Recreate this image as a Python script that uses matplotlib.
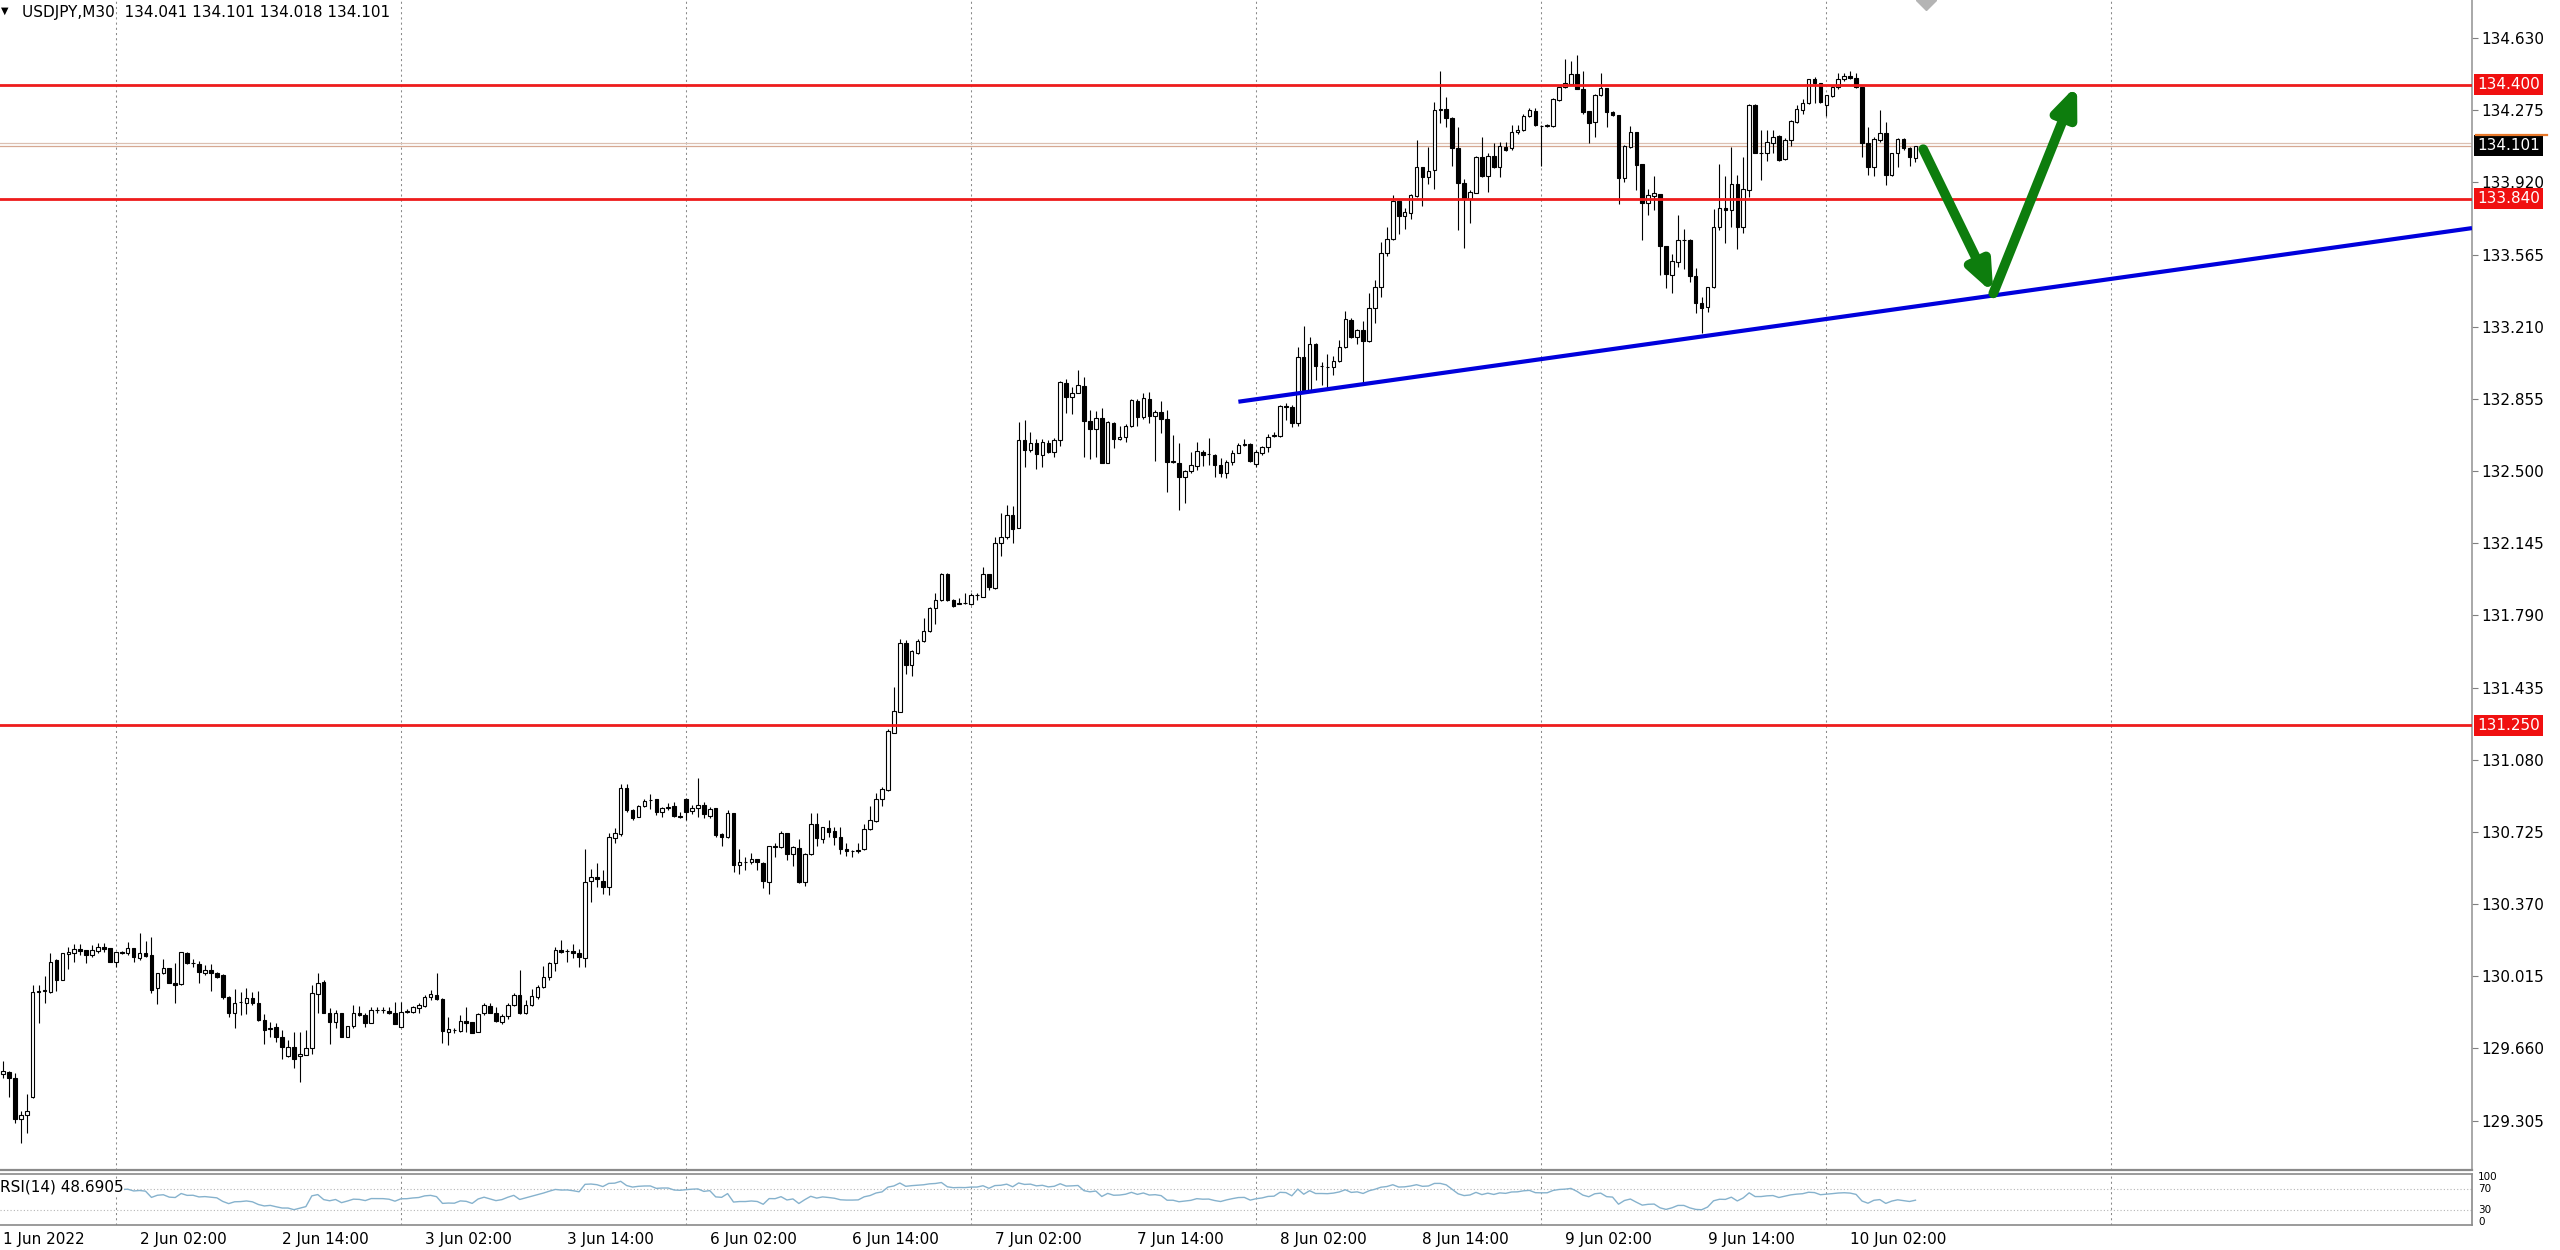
import numpy as np
import matplotlib
matplotlib.use("Agg")
import matplotlib.pyplot as plt
from matplotlib.patches import FancyArrowPatch, ArrowStyle
from matplotlib.lines import Line2D

plt.rcParams['font.family'] = ['DejaVu Sans']

# ------------------------------------------------------------------ data
symbol = "USDJPY,M30"
last_ohlc = ["134.041", "134.101", "134.018", "134.101"]
session_days = ["1 Jun", "2 Jun", "3 Jun", "6 Jun", "7 Jun", "8 Jun", "9 Jun", "10 Jun"]
first_day_label = "1 Jun 2022"
first_slot = 29          # first bar of 1 Jun is 14:30 (half-hour slot 29)

opens = [
    129.535, 129.545, 129.513, 129.313, 129.332, 129.420, 129.939, 129.944, 129.940, 130.095,
    129.999, 130.124, 130.131, 130.147, 130.144, 130.119, 130.141, 130.160, 130.152, 130.087,
    130.136, 130.128, 130.152, 130.103, 130.131, 130.119, 129.955, 130.033, 130.054, 129.983,
    129.975, 130.128, 130.080, 130.075, 130.033, 130.046, 130.029, 130.021, 129.914, 129.836,
    129.888, 129.885, 129.910, 129.885, 129.800, 129.757, 129.767, 129.718, 129.622, 129.668,
    129.622, 129.628, 129.660, 129.928, 129.988, 129.836, 129.791, 129.832, 129.718, 129.770,
    129.832, 129.824, 129.786, 129.849, 129.849, 129.845, 129.836, 129.767, 129.838, 129.841,
    129.858, 129.870, 129.914, 129.923, 129.903, 129.742, 129.752, 129.747, 129.796, 129.791,
    129.742, 129.832, 129.868, 129.836,
    129.791, 129.818, 129.873, 129.922, 129.832, 129.873, 129.914, 129.960, 130.009, 130.078,
    130.146, 130.138, 130.140, 130.127, 130.107, 130.484, 130.504, 130.484, 130.452, 130.693,
    130.714, 130.939, 130.832, 130.796, 130.852, 130.881, 130.885, 130.824, 130.845, 130.852,
    130.802, 130.885, 130.829, 130.845, 130.857, 130.802, 130.845, 130.714, 130.698, 130.819,
    130.561, 130.578, 130.578, 130.594, 130.573, 130.479, 130.655, 130.652, 130.721, 130.616,
    130.648, 130.479, 130.616, 130.763, 130.688, 130.742, 130.730, 130.701, 130.643, 130.632,
    130.632, 130.643, 130.737, 130.779, 130.885, 130.930, 131.212, 131.316, 131.652, 131.545,
    131.606, 131.665, 131.714, 131.824, 131.865, 131.996, 131.868, 131.846, 131.849, 131.846,
    131.890,
    131.882, 131.993, 131.923, 132.144, 132.174, 132.284, 132.218, 132.652, 132.603, 132.636,
    132.579, 132.639, 132.595, 132.652, 132.935, 132.862, 132.885, 132.920, 132.748, 132.705,
    132.759, 132.538, 132.738, 132.656, 132.666, 132.721, 132.846, 132.764, 132.853, 132.771,
    132.792, 132.754, 132.546, 132.541, 132.472, 132.502, 132.525, 132.595, 132.582, 132.579,
    132.530, 132.492, 132.546, 132.590, 132.630, 132.633, 132.534, 132.587, 132.616, 132.672,
    132.672, 132.820,
    132.813, 132.735, 133.062, 132.898, 133.124, 133.016, 133.013, 133.010, 133.042, 133.108,
    133.242, 133.160, 133.193, 133.141, 133.300, 133.403, 133.574, 133.639, 133.830, 133.754,
    133.770, 133.852, 133.994, 133.944, 133.980, 134.276, 134.280, 134.235, 134.087, 133.915,
    133.836, 133.869, 134.046, 133.951, 134.049, 133.994, 134.092, 134.087, 134.169, 134.177,
    134.246, 134.272, 134.197, 134.197, 134.197,
    134.325, 134.387, 134.404, 134.453, 134.377, 134.272, 134.218, 134.349, 134.382, 134.267,
    134.251, 133.939, 134.092, 134.169, 134.010, 133.820, 133.852, 133.862, 133.606, 133.464,
    133.529, 133.636, 133.636, 133.459, 133.328, 133.305, 133.403, 133.698, 133.792, 133.784,
    133.912, 133.698, 133.882, 134.300, 134.062, 134.062, 134.112, 134.148, 134.033, 134.128,
    134.218, 134.276, 134.308, 134.426, 134.410, 134.300, 134.344, 134.387, 134.426, 134.443,
    134.431, 134.387, 134.115, 133.997, 134.128, 134.164, 133.956, 134.066, 134.131, 134.087,
    134.041,
]

highs = [
    129.598, 129.550, 129.537, 129.352, 129.434, 129.972, 129.972, 130.016, 130.128, 130.100,
    130.131, 130.160, 130.172, 130.172, 130.146, 130.169, 130.177, 130.180, 130.155, 130.136,
    130.139, 130.185, 130.155, 130.229, 130.190, 130.206, 130.033, 130.098, 130.057, 130.078,
    130.136, 130.133, 130.098, 130.092, 130.070, 130.075, 130.037, 130.025, 129.916, 129.951,
    129.939, 129.955, 129.939, 129.944, 129.829, 129.791, 129.786, 129.750, 129.701, 129.742,
    129.742, 129.750, 129.972, 130.029, 129.995, 129.857, 129.849, 129.836, 129.770, 129.873,
    129.868, 129.832, 129.862, 129.865, 129.862, 129.862, 129.890, 129.890, 129.852, 129.868,
    129.882, 129.923, 129.947, 130.033, 129.908, 129.816, 129.760, 129.824, 129.862, 129.791,
    129.832, 129.885, 129.882, 129.865,
    129.828, 129.881, 129.933, 130.045, 129.897, 129.950, 129.971, 130.064, 130.086, 130.160,
    130.192, 130.151, 130.176, 130.151, 130.639, 130.545, 130.573, 130.537, 130.721, 130.742,
    130.963, 130.963, 130.840, 130.857, 130.885, 130.911, 130.885, 130.848, 130.865, 130.873,
    130.824, 130.894, 130.857, 130.988, 130.873, 130.848, 130.845, 130.721, 130.835, 130.819,
    130.639, 130.602, 130.619, 130.594, 130.578, 130.655, 130.668, 130.730, 130.721, 130.655,
    130.688, 130.622, 130.819, 130.819, 130.747, 130.783, 130.747, 130.747, 130.671, 130.638,
    130.671, 130.766, 130.852, 130.914, 130.944, 131.229, 131.439, 131.672, 131.668, 131.619,
    131.672, 131.775, 131.832, 131.901, 131.999, 131.999, 131.873, 131.878, 131.898, 131.898,
    131.898,
    132.029, 131.996, 132.177, 132.292, 132.333, 132.328, 132.743, 132.751, 132.693, 132.656,
    132.656, 132.652, 132.661, 132.944, 132.951, 132.915, 132.997, 132.964, 132.800, 132.797,
    132.808, 132.746, 132.743, 132.721, 132.731, 132.853, 132.853, 132.882, 132.890, 132.800,
    132.846, 132.800, 132.677, 132.636, 132.505, 132.595, 132.644, 132.603, 132.661, 132.584,
    132.562, 132.554, 132.603, 132.636, 132.656, 132.636, 132.603, 132.623, 132.682, 132.693,
    132.825, 132.836,
    132.825, 133.111, 133.213, 133.157, 133.128, 133.037, 133.075, 133.065, 133.147, 133.288,
    133.251, 133.201, 133.239, 133.374, 133.442, 133.628, 133.698, 133.857, 133.833, 133.792,
    133.862, 134.128, 133.997, 134.095, 134.317, 134.469, 134.338, 134.243, 134.190, 133.935,
    133.882, 134.049, 134.144, 134.062, 134.112, 134.120, 134.120, 134.202, 134.202, 134.256,
    134.284, 134.284, 134.200, 134.207, 134.333,
    134.390, 134.525, 134.518, 134.546, 134.469, 134.272, 134.354, 134.459, 134.382, 134.272,
    134.251, 134.103, 134.197, 134.169, 134.010, 133.885, 133.951, 133.862, 133.606, 133.570,
    133.759, 133.693, 133.639, 133.497, 133.354, 133.406, 133.787, 134.010, 133.951, 134.095,
    133.956, 134.043, 134.305, 134.305, 134.180, 134.180, 134.180, 134.151, 134.136, 134.226,
    134.300, 134.328, 134.426, 134.440, 134.410, 134.349, 134.394, 134.456, 134.459, 134.469,
    134.459, 134.387, 134.190, 134.141, 134.276, 134.218, 134.066, 134.136, 134.136, 134.092,
    134.101,
]

lows = [
    129.513, 129.422, 129.295, 129.196, 129.245, 129.415, 129.787, 129.882, 129.935, 129.944,
    129.996, 130.049, 130.087, 130.119, 130.078, 130.108, 130.128, 130.136, 130.087, 130.062,
    130.124, 130.119, 130.087, 130.095, 130.111, 129.934, 129.877, 130.026, 129.980, 129.882,
    129.970, 130.075, 130.059, 129.980, 130.021, 129.944, 130.005, 129.903, 129.813, 129.759,
    129.824, 129.829, 129.873, 129.796, 129.682, 129.718, 129.693, 129.606, 129.619, 129.562,
    129.496, 129.627, 129.632, 129.832, 129.832, 129.682, 129.759, 129.714, 129.714, 129.759,
    129.819, 129.764, 129.786, 129.832, 129.836, 129.829, 129.780, 129.764, 129.832, 129.832,
    129.832, 129.865, 129.898, 129.898, 129.685, 129.677, 129.734, 129.742, 129.742, 129.734,
    129.742, 129.824, 129.832, 129.791,
    129.782, 129.807, 129.868, 129.828, 129.828, 129.868, 129.905, 129.955, 129.999, 130.042,
    130.127, 130.086, 130.107, 130.061, 130.061, 130.381, 130.455, 130.422, 130.414, 130.671,
    130.704, 130.824, 130.786, 130.796, 130.848, 130.840, 130.807, 130.799, 130.835, 130.799,
    130.791, 130.786, 130.812, 130.799, 130.791, 130.791, 130.698, 130.655, 130.693, 130.529,
    130.517, 130.540, 130.566, 130.540, 130.447, 130.419, 130.602, 130.648, 130.589, 130.556,
    130.474, 130.458, 130.611, 130.655, 130.671, 130.701, 130.660, 130.616, 130.606, 130.602,
    130.619, 130.638, 130.734, 130.775, 130.852, 130.927, 131.212, 131.316, 131.501, 131.491,
    131.600, 131.660, 131.709, 131.750, 131.862, 131.862, 131.832, 131.846, 131.846, 131.841,
    131.865,
    131.882, 131.914, 131.918, 132.082, 132.164, 132.147, 132.218, 132.518, 132.595, 132.508,
    132.518, 132.587, 132.567, 132.623, 132.787, 132.780, 132.882, 132.570, 132.557, 132.567,
    132.538, 132.538, 132.611, 132.653, 132.644, 132.718, 132.721, 132.754, 132.734, 132.551,
    132.689, 132.398, 132.538, 132.308, 132.344, 132.492, 132.505, 132.525, 132.530, 132.472,
    132.469, 132.464, 132.530, 132.587, 132.623, 132.546, 132.521, 132.579, 132.595, 132.666,
    132.669, 132.751,
    132.715, 132.720, 132.882, 132.898, 132.947, 132.923, 132.906, 132.972, 133.037, 133.103,
    133.152, 133.124, 132.931, 133.136, 133.226, 133.354, 133.557, 133.636, 133.666, 133.693,
    133.738, 133.849, 133.803, 133.912, 133.885, 134.210, 134.190, 134.000, 133.688, 133.595,
    133.721, 133.866, 133.948, 133.874, 133.989, 133.948, 134.076, 134.079, 134.157, 134.174,
    134.243, 134.197, 134.000, 134.190, 134.190,
    134.322, 134.382, 134.399, 134.377, 134.256, 134.112, 134.144, 134.344, 134.190, 134.246,
    133.816, 133.923, 134.087, 133.882, 133.636, 133.759, 133.784, 133.464, 133.398, 133.377,
    133.502, 133.492, 133.431, 133.275, 133.177, 133.283, 133.398, 133.688, 133.620, 133.702,
    133.590, 133.672, 133.849, 134.062, 133.931, 134.026, 134.062, 134.026, 134.030, 134.098,
    134.213, 134.256, 134.305, 134.308, 134.312, 134.246, 134.341, 134.377, 134.420, 134.426,
    134.382, 134.043, 133.956, 133.951, 134.120, 133.907, 133.951, 133.997, 134.079, 134.000,
    134.018,
]

closes = [
    129.548, 129.513, 129.313, 129.332, 129.352, 129.939, 129.944, 129.944, 130.087, 129.996,
    130.128, 130.136, 130.147, 130.141, 130.119, 130.144, 130.157, 130.149, 130.087, 130.136,
    130.131, 130.152, 130.108, 130.131, 130.116, 129.947, 130.033, 130.054, 129.983, 129.972,
    130.133, 130.078, 130.082, 130.034, 130.046, 130.029, 130.013, 129.911, 129.836, 129.885,
    129.890, 129.906, 129.882, 129.800, 129.750, 129.762, 129.714, 129.669, 129.668, 129.606,
    129.632, 129.660, 129.934, 129.983, 129.832, 129.791, 129.832, 129.718, 129.770, 129.832,
    129.824, 129.786, 129.849, 129.849, 129.847, 129.832, 129.780, 129.841, 129.844, 129.862,
    129.873, 129.914, 129.927, 129.903, 129.747, 129.754, 129.750, 129.796, 129.786, 129.737,
    129.829, 129.873, 129.836, 129.796,
    129.818, 129.873, 129.922, 129.832, 129.873, 129.917, 129.960, 130.012, 130.078, 130.146,
    130.135, 130.140, 130.127, 130.110, 130.479, 130.504, 130.491, 130.455, 130.698, 130.721,
    130.939, 130.832, 130.791, 130.852, 130.878, 130.881, 130.824, 130.845, 130.845, 130.802,
    130.796, 130.824, 130.845, 130.857, 130.812, 130.840, 130.709, 130.698, 130.819, 130.561,
    130.578, 130.578, 130.594, 130.578, 130.484, 130.655, 130.652, 130.721, 130.616, 130.652,
    130.479, 130.616, 130.763, 130.693, 130.747, 130.725, 130.698, 130.643, 130.632, 130.632,
    130.638, 130.737, 130.783, 130.885, 130.934, 131.222, 131.321, 131.652, 131.545, 131.616,
    131.665, 131.714, 131.824, 131.868, 131.996, 131.865, 131.836, 131.852, 131.849, 131.890,
    131.892,
    131.993, 131.928, 132.144, 132.174, 132.284, 132.213, 132.652, 132.603, 132.639, 132.584,
    132.644, 132.595, 132.652, 132.939, 132.862, 132.885, 132.923, 132.748, 132.705, 132.759,
    132.538, 132.743, 132.656, 132.669, 132.721, 132.849, 132.764, 132.857, 132.771, 132.792,
    132.754, 132.546, 132.546, 132.472, 132.502, 132.530, 132.600, 132.579, 132.584, 132.530,
    132.492, 132.546, 132.590, 132.628, 132.633, 132.551, 132.595, 132.620, 132.669, 132.677,
    132.820, 132.813,
    132.735, 133.062, 132.898, 133.124, 133.016, 133.016, 133.010, 133.042, 133.108, 133.246,
    133.160, 133.193, 133.141, 133.300, 133.406, 133.574, 133.639, 133.830, 133.754, 133.775,
    133.857, 133.994, 133.944, 133.977, 134.276, 134.280, 134.235, 134.087, 133.915, 133.836,
    133.874, 134.046, 133.951, 134.049, 133.994, 134.098, 134.079, 134.169, 134.180, 134.246,
    134.276, 134.202, 134.197, 134.200, 134.328,
    134.387, 134.407, 134.453, 134.377, 134.267, 134.213, 134.349, 134.382, 134.267, 134.251,
    133.939, 134.098, 134.169, 134.005, 133.820, 133.857, 133.866, 133.606, 133.469, 133.534,
    133.636, 133.636, 133.459, 133.328, 133.300, 133.403, 133.702, 133.792, 133.784, 133.912,
    133.698, 133.885, 134.300, 134.062, 134.062, 134.120, 134.144, 134.030, 134.128, 134.223,
    134.279, 134.312, 134.426, 134.410, 134.317, 134.349, 134.387, 134.426, 134.443, 134.431,
    134.387, 134.115, 133.997, 134.131, 134.164, 133.956, 134.066, 134.131, 134.087, 134.043,
    134.101,
]

price_ticks = [134.630, 134.275, 133.920, 133.565, 133.210, 132.855, 132.500, 132.145,
               131.790, 131.435, 131.080, 130.725, 130.370, 130.015, 129.660, 129.305]
sr_levels = [134.400, 133.840, 131.250]
bid_price = 134.101
ask_price = 134.114
trend_bars = [208.0, 415.7]
trend_prices = [132.841, 133.695]
arrow_bars = [323.3, 335.1, 349.2]
arrow_prices = [134.083, 133.374, 134.399]
shift_marker_bar = 323.7
rsi_period = 14
rsi_levels = [70, 30]
rsi_tick_texts = ["100", "70", "30", "0"]
rsi_caption = "RSI(14) 48.6905"

# ------------------------------------------------------------------ derived
n = min(len(opens), len(highs), len(lows), len(closes))
op = np.array(opens[:n]); hi = np.array(highs[:n])
lo = np.array(lows[:n]); cl = np.array(closes[:n])
xb = np.arange(n)

bar_times = []
for d_i, day in enumerate(session_days):
    for slot in range(first_slot if d_i == 0 else 0, 48):
        if len(bar_times) < n:
            bar_times.append((day, slot))

label_bars, label_texts, grid_bars = [0], [first_day_label], []
for i, (day, slot) in enumerate(bar_times):
    if slot == 0:
        grid_bars.append(i)
    if slot in (4, 28) and i > 0:
        label_bars.append(i)
        label_texts.append(f"{day} {slot // 2:02d}:{(slot % 2) * 30:02d}")
grid_bars.append(grid_bars[-1] + 48)


def wilder_rsi(c, period):
    d = np.diff(c)
    g = np.clip(d, 0, None)
    l = np.clip(-d, 0, None)
    out = np.full(len(c), np.nan)
    ag = g[:period].mean()
    al = l[:period].mean()
    out[period] = 100.0 if al == 0 else 100 - 100 / (1 + ag / al)
    for i in range(period + 1, len(c)):
        ag = (ag * (period - 1) + g[i - 1]) / period
        al = (al * (period - 1) + l[i - 1]) / period
        out[i] = 100.0 if al == 0 else 100 - 100 / (1 + ag / al)
    return out


rsi = wilder_rsi(cl, rsi_period)

# ------------------------------------------------------------------ figure
W, H = 2560, 1250
fig = plt.figure(figsize=(W / 100, H / 100), dpi=100)
fig.patch.set_facecolor('white')
plot_w = 2472 / W
ax = fig.add_axes([0, (H - 1170) / H, plot_w, 1170 / H])
axr = fig.add_axes([0, (H - 1225) / H, plot_w, 51 / H])

xlim = (-0.5, 415.7)
ylim = (129.062, 134.817)
ax.set_xlim(*xlim)
ax.set_ylim(*ylim)
axr.set_xlim(*xlim)
axr.set_ylim(0, 100)

grid_kw = dict(color='#8a8a8a', lw=0.75, ls=(0, (2, 3)), zorder=1)
for b in grid_bars:
    ax.axvline(b, **grid_kw)
    axr.axvline(b, **grid_kw)

# bid / ask lines
ax.axhline(bid_price, color='#d6a892', lw=0.9, zorder=2)
ax.axhline(ask_price, color='#dcc0b2', lw=0.9, zorder=2)

# candles
ax.vlines(xb, lo, hi, colors='black', linewidth=0.8, zorder=3)
body_lo = np.minimum(op, cl)
body_h = np.maximum(np.abs(cl - op), 0.0012)
body_col = ['white' if c >= o else 'black' for o, c in zip(op, cl)]
ax.bar(xb, body_h, bottom=body_lo, width=0.6, color=body_col,
       edgecolor='black', linewidth=0.8, zorder=4)

# support / resistance
for lv in sr_levels:
    ax.axhline(lv, color='#ee1c1c', lw=2.0, zorder=6)
    ax.annotate(f"{lv:.3f}", xy=(1, lv), xycoords=('axes fraction', 'data'),
                xytext=(5, 0), textcoords='offset pixels', ha='left', va='center',
                fontsize=11, color='white', annotation_clip=False, zorder=10,
                bbox=dict(boxstyle='square,pad=0.2', fc='#f01010', ec='none'))
ax.annotate(f"{bid_price:.3f}", xy=(1, bid_price), xycoords=('axes fraction', 'data'),
            xytext=(5, 0), textcoords='offset pixels', ha='left', va='center',
            fontsize=11, color='white', annotation_clip=False, zorder=10,
            bbox=dict(boxstyle='square,pad=0.2', fc='black', ec='none'))
ax.add_line(Line2D([1.0015, 1.0305], [bid_price + 0.053] * 2,
                   transform=ax.get_yaxis_transform(), color='#e8782a', lw=1.6,
                   clip_on=False, zorder=11))

# trend line
ax.plot(trend_bars, trend_prices, color='#0000dc', lw=3.0, solid_capstyle='butt', zorder=7)

# green arrows
green = '#0d7d0d'
style = ArrowStyle('-|>', head_length=17, head_width=7)
for k in range(len(arrow_bars) - 1):
    arr = FancyArrowPatch((arrow_bars[k], arrow_prices[k]),
                          (arrow_bars[k + 1], arrow_prices[k + 1]),
                          arrowstyle=style, mutation_scale=1, lw=7, color=green,
                          shrinkA=0, shrinkB=0, capstyle='round', joinstyle='round',
                          zorder=8)
    ax.add_patch(arr)

# chart shift marker
ax.plot([shift_marker_bar], [ylim[1]], marker='D', ms=10, color='#b4b4b4',
        mec='#b4b4b4', zorder=9)

# price axis
ax.yaxis.tick_right()
ax.set_yticks(price_ticks)
ax.set_yticklabels([f"{v:.3f}" for v in price_ticks])
ax.tick_params(axis='y', direction='out', length=4, width=0.8, color='#7f7f7f',
               labelsize=11, pad=3, labelcolor='black')
ax.tick_params(axis='x', bottom=False, labelbottom=False)
for s in ('left', 'top'):
    ax.spines[s].set_visible(False)
ax.spines['right'].set_color('#9a9a9a')
ax.spines['right'].set_linewidth(1.2)
ax.spines['bottom'].set_color('#8a8a8a')
ax.spines['bottom'].set_linewidth(1.6)

# title
fig.text(1 / W, 1 - 11 / H, '\u25BC', fontsize=7, ha='left', va='center')
fig.text(22 / W, 1 - 12 / H, symbol + "  " + " ".join(last_ohlc),
         fontsize=11, ha='left', va='center')

# RSI panel
valid = ~np.isnan(rsi)
axr.plot(xb[valid], rsi[valid], color='#86b2cd', lw=1.0, zorder=3)
for lv in rsi_levels:
    axr.axhline(lv, color='#b5b5b5', lw=0.8, ls=(0, (1, 2)), zorder=2)
axr.text(0.0, 74, rsi_caption, transform=axr.get_yaxis_transform(), fontsize=11,
         ha='left', va='center', zorder=6,
         bbox=dict(boxstyle='square,pad=0.05', fc='white', ec='none'))
# level captions of the tiny panel, squeezed so they stay legible
rsi_label_y = [94, 71, 29, 6]
for txt, yv in zip(rsi_tick_texts, rsi_label_y):
    axr.text(1.0 + 6 / 2472, yv, txt, transform=axr.get_yaxis_transform(),
             fontsize=7.5, ha='left', va='center', clip_on=False)
axr.set_yticks([])
axr.set_xticks(label_bars)
axr.set_xticklabels(label_texts)
for t in axr.get_xticklabels():
    t.set_ha('left')
axr.tick_params(axis='x', length=0, labelsize=11, pad=5)
axr.spines['left'].set_visible(False)
for s in ('top', 'bottom', 'right'):
    axr.spines[s].set_color('#8a8a8a')
    axr.spines[s].set_linewidth(1.2)

fig.savefig('out.png', dpi=100, facecolor='white')
